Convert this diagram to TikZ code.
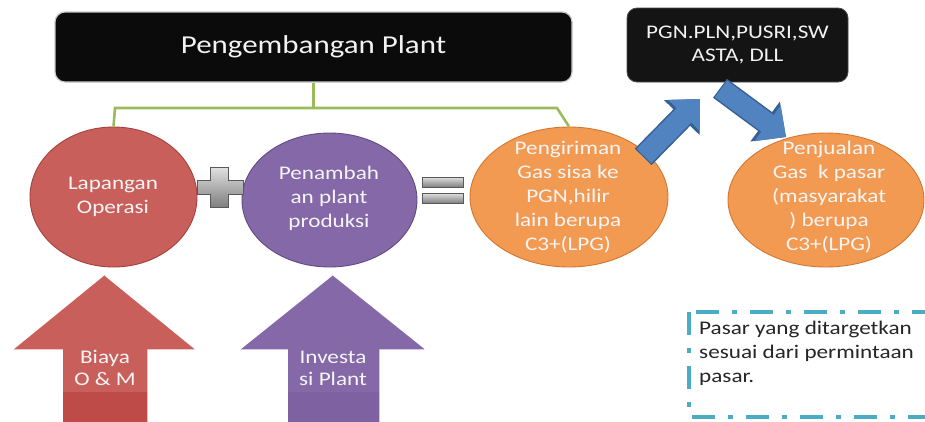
\documentclass[tikz,border=0pt]{standalone}
\usepackage{fontspec}
\setmainfont{Carlito}[FakeStretch=1.2]
\usetikzlibrary{shapes.geometric,arrows.meta}

\definecolor{boxblack}{HTML}{0B0B0B}
\definecolor{boxedge}{HTML}{C8C8C8}
\definecolor{linkgreen}{HTML}{9BBB59}
\definecolor{redF}{HTML}{C95F5B}
\definecolor{redD}{HTML}{A3413E}
\definecolor{redB}{HTML}{BE4B48}
\definecolor{purF}{HTML}{8468A8}
\definecolor{purD}{HTML}{634A85}
\definecolor{purB}{HTML}{7D61A0}
\definecolor{oraF}{HTML}{F39A52}
\definecolor{oraD}{HTML}{D37630}
\definecolor{blueF}{HTML}{5083C0}
\definecolor{blueD}{HTML}{365F94}
\definecolor{noteblue}{HTML}{4BACC6}
\definecolor{notetext}{HTML}{262626}

\begin{document}
\begin{tikzpicture}[x=1pt,y=-1pt,
  darkbox/.style={rectangle, rounded corners=10pt, fill=boxblack, draw=boxedge,
    line width=1.2pt, text=white!95!black, inner sep=0pt},
  oval/.style={ellipse, line width=0.9pt, inner sep=0pt},
  bodytext/.style={font=\fontsize{19.3}{24}\selectfont, align=center,
    text=white!96!black, inner sep=0pt},
  link/.style={draw=linkgreen, line width=2.6pt},
  sym/.style={top color=white!88!black, bottom color=white!50!black,
    draw=white!35!black, line width=0.8pt},
  upfill/.style={draw=white, line width=1.5pt},
  note/.style={draw=noteblue, line width=3.5pt,
    dash pattern=on 23pt off 13pt on 5pt off 13pt}
]
\useasboundingbox (0,0) rectangle (925,421);
\fill[white] (0,0) rectangle (925,421);

% title box and the link to the three stages
\node[darkbox, minimum width=517pt, minimum height=70pt,
  font=\fontsize{25.8}{30}\selectfont] (plant) at (313.5,47) {Pengembangan Plant};

% stages
\node[oval, fill=redF, draw=redD, minimum width=167pt, minimum height=140pt] (lap) at (113.5,197) {};
\node[oval, fill=purF, draw=purD, minimum width=175pt, minimum height=134pt] (tambah) at (329.5,200) {};
\node[oval, fill=oraF, draw=oraD, minimum width=198pt, minimum height=140pt] (kirim) at (569,197) {};
\node[oval, fill=oraF, draw=oraD, minimum width=196pt, minimum height=134pt] (jual) at (826,200) {};

\node[bodytext] (laptxt) at (113,197) {Lapangan\\Operasi};
\node[bodytext] (tambahtxt) at (329,198) {Penambah\\an plant\\produksi};
\node[bodytext] (kirimtxt) at (568,197) {Pengiriman\\Gas sisa ke\\PGN,hilir\\lain berupa\\C3+(LPG)};
\node[bodytext] (jualtxt) at (829,197) {Penjualan\\Gas\ \ k pasar\\(masyarakat\\) berupa\\C3+(LPG)};

\coordinate (barL) at (115,108);
\coordinate (barR) at (557,108);
\draw[link] (plant.south) -- (plant.south |- barL);
\draw[link] (lap.north) -- (barL) -- (barR) -- (kirim.north);

% plus and equals signs
\draw[sym] (210,167) -- (228,167) -- (228,180) -- (243,180) -- (243,194) -- (228,194)
  -- (228,207) -- (210,207) -- (210,194) -- (197,194) -- (197,180) -- (210,180) -- cycle;
\draw[sym] (422,177) rectangle (463,187);
\draw[sym] (422,193) rectangle (463,203);

% buyers box and the flow arrows
\node[darkbox, fill=black!92, draw=black!70, line width=0.8pt, minimum width=221pt, minimum height=74pt,
  font=\fontsize{19.3}{23}\selectfont, align=center] (mitra) at (737.5,45)
  {PGN.PLN,PUSRI,SW\\ASTA, DLL};

\coordinate (b1s) at (644,156);
\coordinate (b1e) at (700,99);
\coordinate (b2s) at (721,89);
\coordinate (b2e) at (786,137);
\foreach \s/\e in {b1s/b1e, b2s/b2e}{
  \draw[draw=blueD, line width=23.5pt, shorten <=-1.2pt,
    -{Triangle[length=26pt,width=48pt]}] (\s) -- (\e);
  \draw[draw=blueF, line width=20.5pt,
    -{Triangle[length=23pt,width=43pt]}] (\s) -- (\e);
}

% cost inputs
\fill[redF] (105,275) -- (197,350) -- (148,350) -- (148,425) -- (62,425) -- (62,350) -- (13,350) -- cycle;
\fill[redB] (62,392) rectangle (148,425);
\draw[upfill] (105,275) -- (197,350) -- (148,350) -- (148,425) (62,425) -- (62,350) -- (13,350) -- cycle;
\node[bodytext, font=\fontsize{19.3}{22}\selectfont] (biaya) at (105,368) {Biaya\\O \& M};

\fill[purF] (333.5,275) -- (427,350) -- (380,350) -- (380,425) -- (287,425) -- (287,350) -- (240,350) -- cycle;
\fill[purB] (287,392) rectangle (380,425);
\draw[upfill] (333.5,275) -- (427,350) -- (380,350) -- (380,425) (287,425) -- (287,350) -- (240,350) -- cycle;
\node[bodytext, font=\fontsize{19.3}{22}\selectfont] (investasi) at (333,368) {Investa\\si Plant};

% note
\draw[note] (689,312) rectangle (950,417);
\node[anchor=north west, align=left, inner sep=0pt, text=notetext,
  font=\fontsize{19.3}{24}\selectfont] (pasar) at (699,321)
  {Pasar yang ditargetkan\\sesuai dari permintaan\\pasar.};
\end{tikzpicture}
\end{document}
